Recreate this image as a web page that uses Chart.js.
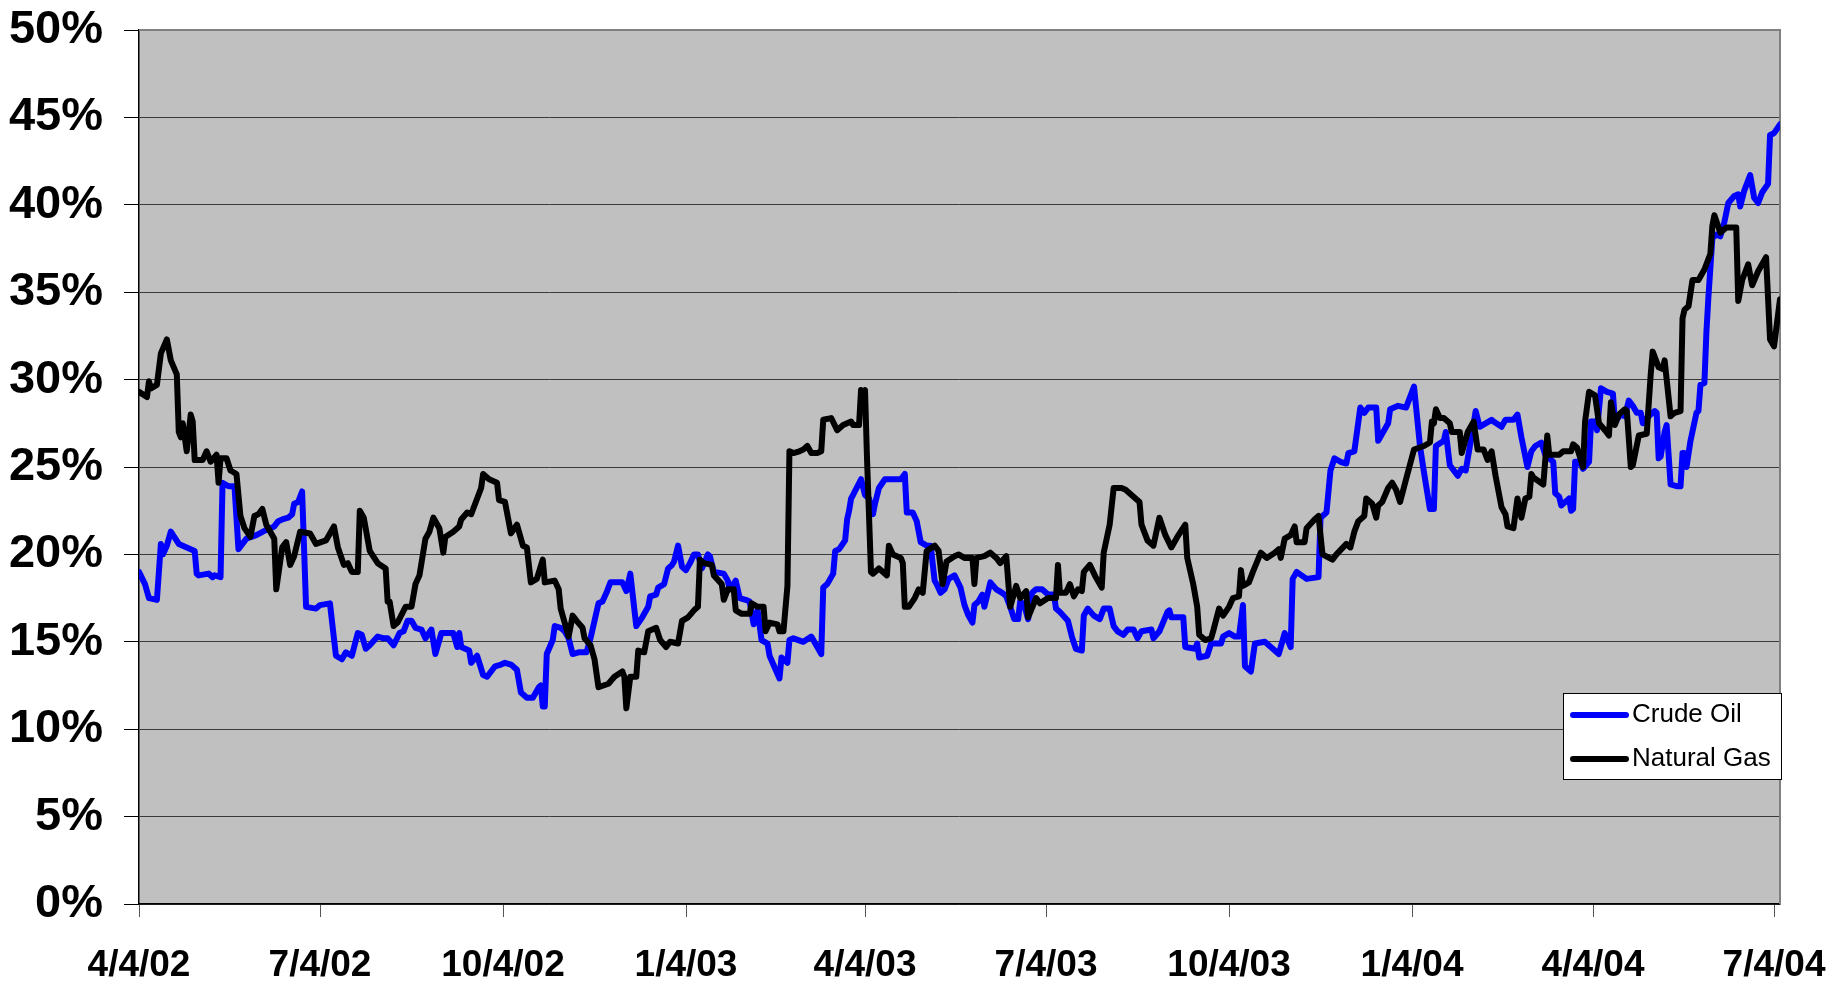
<!DOCTYPE html>
<html>
<head>
<meta charset="utf-8">
<script src="https://cdn.jsdelivr.net/npm/chart.js@4.4.1/dist/chart.umd.min.js"></script>
<style>
  html, body { margin: 0; padding: 0; background: #ffffff; }
  #wrap { width: 1835px; height: 988px; position: relative; }
</style>
</head>
<body>
<div id="wrap"><canvas id="c" width="1835" height="988"></canvas></div>
<script>
// Days counted from 4/4/02
const tickDays = [0, 91, 183, 275, 365, 456, 548, 640, 731, 822];
const tickLabels = ['4/4/02', '7/4/02', '10/4/02', '1/4/03', '4/4/03', '7/4/03', '10/4/03', '1/4/04', '4/4/04', '7/4/04'];
const yTicks = [0, 5, 10, 15, 20, 25, 30, 35, 40, 45, 50];

const oilDays = [0,3,5,9,11,12,14,16,20,26,28,29,30,35,37,38,41,42,45,48,50,54,59,64,68,70,72,75,77,78,80,82,84,89,91,96,99,102,104,107,110,112,114,116,120,123,125,128,131,
133,135,137,139,142,144,147,149,152,158,160,161,162,166,167,170,173,175,179,182,184,187,190,192,195,198,201,202,203,204,205,208,209,212,214,216,218,221,225,227,231,233,235,237,243,245,247,250,253,256,257,260,261,264,266,268,
269,271,273,275,277,279,281,283,286,287,289,294,296,297,300,302,305,307,309,311,313,316,317,322,323,326,327,329,334,338,342,343,344,346,349,350,352,355,356,357,358,359,363,365,367,369,370,372,375,379,383,385,386,389,391,393,396,398,400,401,
403,405,407,410,413,415,417,419,420,422,424,425,428,431,434,436,438,440,442,443,445,447,449,451,454,457,460,461,463,467,469,471,474,475,477,480,483,485,488,490,492,495,497,500,502,504,509,510,513,517,518,519,525,526,531,532,533,537,
539,544,545,548,551,553,555,556,559,561,566,569,573,576,579,580,582,587,593,594,597,599,601,604,607,608,611,614,616,618,622,623,628,629,633,637,641,644,646,649,651,652,656,657,659,663,665,667,670,672,674,677,
680,681,685,687,691,693,695,698,700,702,705,707,711,712,714,715,719,720,721,722,724,726,729,730,732,733,735,738,741,742,745,747,749,751,753,755,756,759,762,763,764,765,767,768,770,773,775,776,777,778,780,783,784,785,787,788,789,790,791,793,795,797,799,802,804,805,807,810,812,814,816,819,820,822,825];
const oilValues = [19.0,18.3,17.5,17.4,20.6,20.0,20.5,21.3,20.6,20.3,20.2,18.9,18.8,18.9,18.7,18.8,18.7,24.1,23.9,23.9,20.3,20.9,21.1,21.4,21.6,21.9,22.0,22.1,22.3,22.9,23.0,23.6,17.0,16.9,17.1,17.2,14.2,14.0,14.4,14.2,15.5,15.4,14.6,14.8,15.3,15.2,15.2,14.8,15.5,
15.6,16.2,16.2,15.8,15.7,15.2,15.7,14.3,15.5,15.5,14.7,15.5,14.7,14.5,13.8,14.2,13.1,13.0,13.6,13.7,13.8,13.7,13.4,12.1,11.8,11.8,12.4,12.5,11.3,11.3,14.3,15.1,15.9,15.8,15.6,15.2,14.3,14.4,14.4,15.2,17.2,17.3,17.8,18.4,18.4,17.9,18.9,15.9,16.4,17.0,17.6,17.7,18.1,18.3,19.2,19.4,
19.6,20.5,19.3,19.1,19.5,20.0,20.0,19.2,20.0,19.9,19.0,18.9,18.5,18.0,18.5,17.5,17.4,17.3,16.0,16.8,15.1,14.9,14.2,12.9,14.1,13.8,15.1,15.2,15.0,15.3,14.5,14.3,18.1,18.3,18.9,20.2,20.3,20.8,22.0,22.5,23.2,23.4,24.3,23.4,23.2,22.3,22.9,23.8,24.3,24.3,24.3,24.6,22.4,22.4,21.9,20.7,20.5,20.5,18.5,18.3,
17.8,18.0,18.6,18.8,18.1,17.1,16.5,16.1,17.1,17.3,17.7,17.0,18.4,18.0,17.8,17.6,17.0,16.3,16.3,17.3,17.1,16.3,17.8,18.0,18.0,17.7,17.7,16.9,16.7,16.2,15.3,14.6,14.5,16.5,16.9,16.5,16.3,16.9,16.9,15.9,15.6,15.4,15.7,15.7,15.2,15.6,15.7,15.2,15.6,16.7,16.8,16.4,16.4,14.7,14.6,14.9,14.1,14.2,
14.9,14.9,15.3,15.5,15.3,15.3,17.1,13.6,13.3,14.9,15.0,14.7,14.3,15.5,14.7,18.6,19.0,18.6,18.7,22.1,22.4,24.8,25.5,25.3,25.2,25.8,25.9,28.4,28.1,28.4,28.4,26.5,27.5,28.3,28.5,28.4,29.6,26.2,24.7,22.6,22.6,26.2,26.5,27.0,25.1,24.5,24.9,24.8,26.8,28.2,27.3,27.5,
27.7,27.6,27.3,27.7,27.7,28.0,26.7,25.0,25.9,26.2,26.4,25.7,25.3,23.5,23.3,22.8,23.2,22.5,22.6,25.3,25.3,24.9,25.3,27.6,27.6,27.1,29.5,29.3,29.2,27.6,28.0,27.9,28.8,28.5,28.1,28.1,27.5,27.9,28.2,28.1,25.5,25.6,27.0,27.4,24.0,23.9,23.9,25.8,25.8,25.0,26.5,28.1,28.2,29.7,29.8,32.7,34.7,36.4,38.1,38.3,38.2,39.0,40.1,40.5,40.6,39.9,40.8,41.7,40.4,40.1,40.7,41.2,44.0,44.1,44.6];

const gasDays = [0,4,5,6,9,11,14,16,19,20,21,22,24,26,27,28,32,34,36,39,40,41,44,46,49,51,53,56,58,60,62,64,68,69,72,74,76,78,81,86,89,94,98,100,103,105,107,110,111,113,116,120,124,125,126,128,130,
134,137,139,141,144,146,148,151,153,154,158,161,162,165,167,170,172,173,176,180,181,184,187,190,193,195,197,200,203,204,209,211,212,214,216,218,220,223,224,227,229,231,236,239,243,244,245,247,250,251,254,256,260,262,265,267,
271,273,276,279,281,282,284,288,289,293,294,296,299,300,303,307,308,311,314,315,317,321,322,324,326,327,329,332,334,336,338,341,343,344,348,351,354,358,359,362,363,364,365,366,368,369,372,376,377,379,383,384,385,387,390,392,394,396,400,402,
404,406,410,412,415,419,420,421,425,428,431,433,436,438,441,443,446,447,451,453,457,461,462,463,466,468,470,472,474,475,478,481,484,485,488,490,494,496,499,503,504,507,510,513,516,519,522,526,527,530,532,533,536,
539,540,543,545,548,550,553,554,555,558,560,564,567,571,573,574,576,579,581,582,586,587,591,593,595,600,602,607,609,611,613,616,617,620,622,623,625,628,630,632,634,637,641,646,649,650,651,652,654,656,659,660,664,665,668,671,673,676,678,
680,682,685,687,688,691,693,695,697,699,700,701,706,708,709,714,716,720,721,723,726,727,729,732,734,737,739,740,742,744,747,748,750,751,754,758,760,761,764,766,767,770,772,775,776,777,779,781,784,787,790,791,792,795,798,803,804,806,809,811,814,818,820,822,825];
const gasValues = [29.3,29.0,29.9,29.5,29.7,31.5,32.3,31.1,30.3,27.0,26.7,27.5,25.9,28.0,27.6,25.4,25.4,25.9,25.3,25.7,24.1,25.5,25.5,24.8,24.6,22.2,21.5,21.0,22.2,22.3,22.6,21.7,20.9,18.0,20.4,20.7,19.4,19.9,21.3,21.2,20.6,20.8,21.6,20.4,19.4,19.5,19.0,19.0,22.5,22.1,20.2,19.5,19.2,17.3,17.3,15.9,16.1,
17.0,17.0,18.3,18.8,20.9,21.3,22.1,21.5,20.1,21.0,21.3,21.6,22.0,22.4,22.3,23.2,23.8,24.6,24.3,24.1,23.1,23.0,21.2,21.7,20.5,20.4,18.4,18.6,19.7,18.4,18.5,18.0,16.9,16.1,15.3,16.5,16.2,15.8,15.2,14.8,14.0,12.4,12.6,13.0,13.3,13.0,11.2,13.0,13.0,14.5,14.4,15.6,15.8,15.1,14.7,15.0,
14.9,16.2,16.4,16.8,17.0,19.7,19.5,19.4,18.8,18.3,17.4,18.0,18.0,16.8,16.6,16.6,17.2,17.0,17.0,15.6,16.1,16.0,15.6,15.6,18.2,25.9,25.8,25.9,26.0,26.2,25.8,25.8,25.9,27.7,27.8,27.1,27.4,27.6,27.4,27.4,29.4,28.6,29.4,25.5,19.0,18.9,19.2,18.8,20.5,20.0,19.8,19.5,17.0,17.0,17.5,18.0,17.8,20.2,20.5,20.2,
18.3,19.6,19.9,20.0,19.8,19.8,18.3,19.8,19.9,20.1,19.8,19.5,19.9,17.0,18.2,17.5,17.9,16.4,17.5,17.2,17.5,17.5,19.4,17.8,17.8,18.3,17.6,18.0,17.9,19.0,19.4,18.7,18.1,20.1,21.7,23.8,23.8,23.7,23.4,23.0,21.7,20.8,20.5,22.1,21.1,20.4,21.0,21.7,19.8,18.3,17.0,15.4,15.1,
15.2,15.6,16.9,16.5,17.0,17.5,17.6,19.1,18.2,18.4,19.0,20.1,19.8,20.1,20.3,19.8,20.9,21.1,21.6,20.7,20.7,21.5,22.0,22.2,20.0,19.7,20.0,20.6,20.4,21.3,21.9,22.2,23.2,22.9,22.1,22.8,23.0,23.8,24.1,23.7,23.0,24.3,26.0,26.2,26.4,27.6,27.5,28.3,27.8,27.8,27.5,27.0,27.0,25.8,27.0,27.6,26.0,26.0,25.4,
25.9,24.5,22.7,22.3,21.6,21.5,23.2,22.1,23.2,23.3,24.6,24.4,24.0,26.8,25.7,25.7,25.9,25.9,26.3,26.1,25.0,27.6,29.3,29.1,27.5,27.1,26.8,28.7,27.4,28.0,28.3,28.2,25.0,25.1,26.8,26.9,30.3,31.6,30.7,30.6,31.1,27.9,28.1,28.2,33.5,34.0,34.2,35.7,35.7,36.3,37.2,38.8,39.4,38.4,38.7,38.7,34.5,35.7,36.6,35.4,36.2,37.0,32.3,31.9,34.6];

const seriesNames = ['Crude Oil', 'Natural Gas'];
const seriesColors = ['#0000FF', '#000000'];

const toPoints = (days, vals) => days.map((d, i) => ({ x: d, y: vals[i] }));

const FONT = "'Liberation Sans', Arial, Helvetica, sans-serif";

const plotFrame = {
  id: 'plotFrame',
  beforeDraw(chart) {
    const { ctx, chartArea: a } = chart;
    ctx.save();
    ctx.fillStyle = '#C0C0C0';
    ctx.fillRect(a.left, a.top, a.right - a.left, a.bottom - a.top);
    ctx.restore();
  },
  beforeDatasetsDraw(chart) {
    const { ctx, chartArea: a } = chart;
    ctx.save();
    ctx.strokeStyle = '#808080';
    ctx.lineWidth = 2;
    ctx.beginPath();
    ctx.moveTo(a.left, a.top);
    ctx.lineTo(a.right, a.top);
    ctx.lineTo(a.right, a.bottom);
    ctx.stroke();
    ctx.restore();
  }
};

const boxLegend = {
  id: 'boxLegend',
  afterDraw(chart) {
    const { ctx, chartArea: a } = chart;
    const left = a.right - 217, top = a.top + 663, w = 219, h = 87;
    ctx.save();
    ctx.fillStyle = '#ffffff';
    ctx.fillRect(left, top, w, h);
    ctx.strokeStyle = '#000000';
    ctx.lineWidth = 1;
    ctx.strokeRect(left + 0.5, top + 0.5, w - 1, h - 1);
    ctx.font = '26px ' + FONT;
    ctx.textBaseline = 'middle';
    ctx.textAlign = 'left';
    chart.data.datasets.forEach((ds, i) => {
      const y = top + 22 + i * 44;
      ctx.strokeStyle = ds.borderColor;
      ctx.lineWidth = 6;
      ctx.lineCap = 'round';
      ctx.beginPath();
      ctx.moveTo(left + 10, y);
      ctx.lineTo(left + 63, y);
      ctx.stroke();
      ctx.fillStyle = '#000000';
      ctx.fillText(ds.label, left + 69, y);
    });
    ctx.restore();
  }
};

new Chart(document.getElementById('c'), {
  type: 'line',
  data: {
    datasets: [
      { label: seriesNames[0], data: toPoints(oilDays, oilValues), borderColor: seriesColors[0], order: 1 },
      { label: seriesNames[1], data: toPoints(gasDays, gasValues), borderColor: seriesColors[1], order: 0 }
    ]
  },
  options: {
    responsive: false,
    animation: false,
    devicePixelRatio: 1,
    layout: { padding: { top: 30, right: 55, left: 0, bottom: 0 } },
    elements: {
      line: { borderWidth: 6, tension: 0, borderJoinStyle: 'round', borderCapStyle: 'round', fill: false },
      point: { radius: 0, hoverRadius: 0 }
    },
    plugins: { legend: { display: false }, tooltip: { enabled: false } },
    scales: {
      x: {
        type: 'linear',
        min: 0,
        max: 825,
        afterBuildTicks: (s) => { s.ticks = tickDays.map(v => ({ value: v })); },
        afterFit: (s) => { s.height = 84; s.paddingLeft = 0; s.paddingRight = 0; },
        grid: { display: true, drawOnChartArea: false, drawTicks: true, tickLength: 13, tickColor: '#555555', tickWidth: 1 },
        border: { display: true, color: '#000000', width: 1.5 },
        ticks: {
          autoSkip: false, maxRotation: 0, minRotation: 0, padding: 27,
          color: '#000000',
          font: { family: FONT, size: 37, weight: 'bold' },
          callback: (v) => { const i = tickDays.indexOf(v); return i >= 0 ? tickLabels[i] : ''; }
        }
      },
      y: {
        type: 'linear',
        min: 0,
        max: 50,
        afterBuildTicks: (s) => { s.ticks = yTicks.map(v => ({ value: v })); },
        afterFit: (s) => { s.width = 139; s.paddingTop = 0; s.paddingBottom = 0; },
        grid: {
          color: (c) => (c.tick && c.tick.value === 50 ? '#808080' : '#3a3a3a'),
          lineWidth: 1,
          drawTicks: true, tickLength: 15, tickColor: '#000000'
        },
        border: { display: true, color: '#000000', width: 1.5 },
        ticks: {
          padding: 21,
          color: '#000000',
          font: { family: FONT, size: 47, weight: 'bold' },
          callback: (v) => v + '%'
        }
      }
    }
  },
  plugins: [plotFrame, boxLegend]
});
</script>
</body>
</html>
